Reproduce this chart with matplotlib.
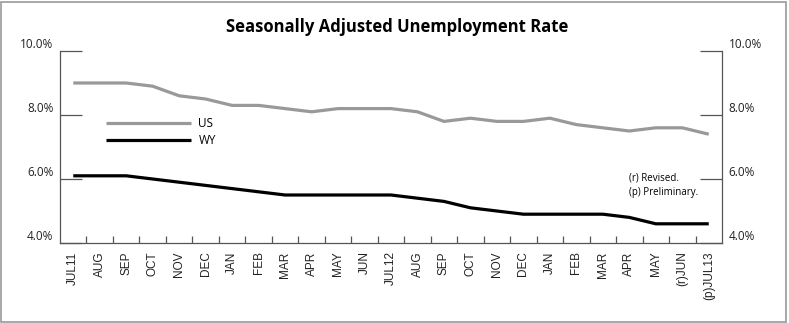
import numpy as np
import matplotlib
matplotlib.use("Agg")
import matplotlib.pyplot as plt
from matplotlib.patches import Rectangle

# Data
months = ["JUL11", "AUG", "SEP", "OCT", "NOV", "DEC", "JAN", "FEB", "MAR", "APR",
          "MAY", "JUN", "JUL12", "AUG", "SEP", "OCT", "NOV", "DEC", "JAN", "FEB",
          "MAR", "APR", "MAY", "(r)JUN", "(p)JUL13"]
us_rate = [9.0, 9.0, 9.0, 8.9, 8.6, 8.5, 8.3, 8.3, 8.2, 8.1, 8.2, 8.2, 8.2,
           8.1, 7.8, 7.9, 7.8, 7.8, 7.9, 7.7, 7.6, 7.5, 7.6, 7.6, 7.4]
wy_rate = [6.1, 6.1, 6.1, 6.0, 5.9, 5.8, 5.7, 5.6, 5.5, 5.5, 5.5, 5.5, 5.5,
           5.4, 5.3, 5.1, 5.0, 4.9, 4.9, 4.9, 4.9, 4.8, 4.6, 4.6, 4.6]
y_ticks = [4.0, 6.0, 8.0, 10.0]

W, H = 789, 323
fig = plt.figure(figsize=(W / 100, H / 100), dpi=100)
fig.patches.append(Rectangle((1 / W, 1.5 / H), (786 - 1) / W, (321 - 1.5) / H,
                             transform=fig.transFigure, fill=False,
                             edgecolor="#9a9a9a", linewidth=1.2))

ax = fig.add_axes([60 / W, 1 - 243 / H, 662 / W, 192 / H])
x = np.arange(len(months))
ax.plot(x, us_rate, color="#999999", linewidth=2.3, label="US", solid_capstyle="butt")
ax.plot(x, wy_rate, color="#000000", linewidth=2.3, label="WY", solid_capstyle="butt")

ax.set_xlim(-0.5, len(months) - 0.5)
ax.set_ylim(4.0, 10.0)

ax.spines["top"].set_visible(False)
for s in ["left", "right", "bottom"]:
    ax.spines[s].set_color("#555555")
    ax.spines[s].set_linewidth(0.9)

# y ticks point inward on both sides, labels sit just above each tick
ax.set_yticks(y_ticks)
ax.set_yticklabels([])
ax.tick_params(axis="y", direction="in", length=16, width=0.9, color="#555555",
               left=True, right=True)
for v in y_ticks:
    ax.text(-0.5 - 0.25, v, f"{v:.1f}%", ha="right", va="bottom",
            fontsize=8.5, family="Open Sans", color="#222222")
    ax.text(len(months) - 0.5 + 0.25, v, f"{v:.1f}%", ha="left", va="bottom",
            fontsize=8.5, family="Open Sans", color="#222222")

# small ticks between months, labels centred on months
ax.set_xticks(x[:-1] + 0.5, minor=False)
ax.set_xticklabels([])
ax.tick_params(axis="x", direction="in", length=5, width=0.9, color="#555555")
ax.set_xticks(x, minor=True)
ax.set_xticklabels(months, minor=True, rotation=90, fontsize=8.5,
                   family="Liberation Sans", color="#222222")
ax.tick_params(axis="x", which="minor", length=0, pad=6)

ax.legend(loc="upper left", bbox_to_anchor=(0.054, 0.71), frameon=False,
          handlelength=7.2, handletextpad=0.6, labelspacing=0.35,
          prop={"family": "Open Sans", "size": 8.5})

ax.text(21.0, 6.2, "(r) Revised.\n(p) Preliminary.", fontsize=7,
        family="Open Sans", va="top", ha="left", linespacing=1.45)

fig.text(397 / W, 1 - 27 / H, "Seasonally Adjusted Unemployment Rate",
         ha="center", va="center", fontsize=12, fontweight="bold",
         family="Open Sans", color="#000000")

fig.savefig("out.png", dpi=100)
